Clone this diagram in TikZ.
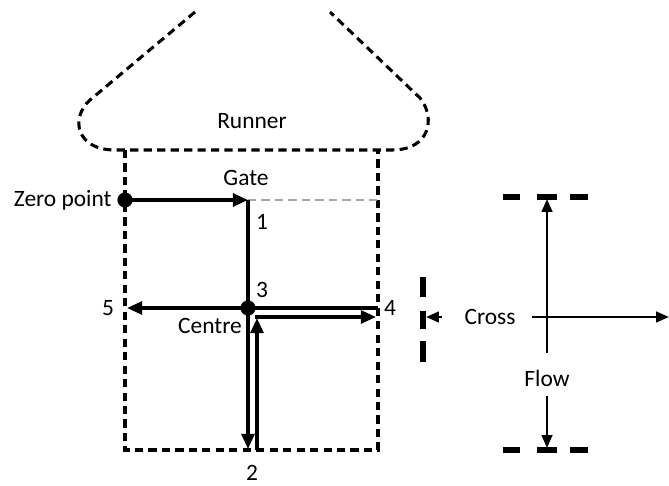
\documentclass[tikz,border=0pt]{standalone}
\usepackage{fontspec}
\setmainfont{Carlito}
\usetikzlibrary{arrows.meta}

\begin{document}
\begin{tikzpicture}[
  x=0.03cm, y=-0.03cm,
  every node/.style={font=\fontsize{20}{24}\selectfont, inner sep=1pt},
  path/.style={line width=3pt},
  tip/.style={-{Triangle[length=13pt,width=11pt]}},
  axis/.style={line width=2.2pt},
  axistip/.style={-{Triangle[length=11pt,width=9pt]}},
  bound/.style={line width=2.6pt, dash pattern=on 7pt off 4.5pt},
  guide/.style={gray!70, line width=1.2pt, dash pattern=on 7pt off 4.5pt},
  marker/.style={line width=4.5pt}
]
  \useasboundingbox (0,0) rectangle (669,486);

  % runner and cavity outline
  \draw[bound] (195,12) -- (90,100) .. controls (70,118) and (76,150) .. (115,150)
    -- (392,150) .. controls (430,150) and (436,118) .. (420,98) -- (330,12);
  \draw[bound] (125,150) -- (125,450) -- (378,450) -- (378,150);
  \node (runner) at (252,121) {Runner};

  % reference points
  \coordinate (zero) at (125,200);
  \coordinate (gate) at (248,200);
  \coordinate (centre) at (248,308);
  \coordinate (pfive) at (127,308);
  \coordinate (pfour) at (378,308);
  \coordinate (ptwo) at (248,449);

  \draw[guide] (gate) -- (378,200);
  \draw[path,tip] (zero) -- (gate);
  \draw[path] (gate) -- (centre);
  \draw[path,tip] (centre) -- (pfive);
  \draw[path] (centre) -- (pfour);
  \draw[path,tip] (255,317) -- (376,317);
  \draw[path,tip] (centre) -- (ptwo);
  \draw[path,tip] (257,450) -- (257,318);
  \fill (zero) circle[radius=6.5pt];
  \fill (centre) circle[radius=6.5pt];

  \node[anchor=east] (zerolbl) at (113,200) {Zero point};
  \node (gatelbl) at (246,178) {Gate};
  \node (one) at (262,222) {1};
  \node (three) at (262,290) {3};
  \node (five) at (108,308) {5};
  \node (four) at (390,308) {4};
  \node (centrelbl) at (210,326) {Centre};
  \node (two) at (252,473) {2};

  % flow and cross directions
  \foreach \y in {197,450}
    \foreach \a/\b in {503/520,537/557,570/588}
      \draw[marker] (\a,\y) -- (\b,\y);
  \foreach \a/\b in {277/297,311/329,341/362}
    \draw[marker] (423,\a) -- (423,\b);

  \node (flow) at (547,378) {Flow};
  \node (cross) at (490,317) {Cross};
  \coordinate (flowtop) at (547,199);
  \coordinate (flowbot) at (547,448);
  \coordinate (crossend) at (669,317);
  \coordinate (crossmark) at (426,317);

  \draw[axis,axistip] (547,353) -- (flowtop);
  \draw[axis,axistip] (547,396) -- (flowbot);
  \draw[axis,axistip] (532,317) -- (crossend);
  \draw[axis,axistip] (442,317) -- (crossmark);
\end{tikzpicture}
\end{document}
